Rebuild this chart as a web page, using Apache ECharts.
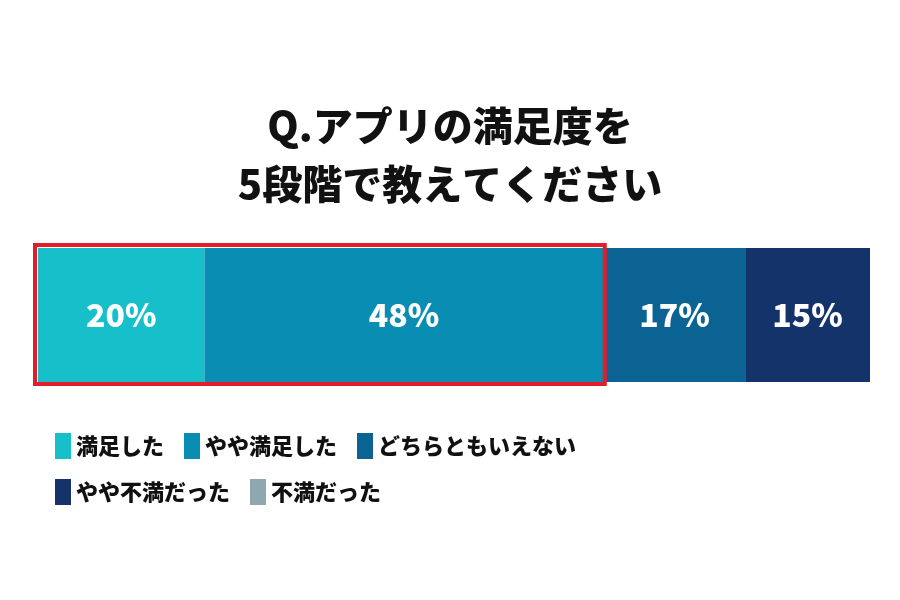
<!DOCTYPE html><html><head><meta charset="utf-8"><script src="https://cdn.jsdelivr.net/npm/echarts@6/dist/echarts.min.js"></script></head><body style="margin:0;background:#fff"><div id="c" style="width:900px;height:600px"></div><script>
const names=['満足した','やや満足した','どちらともいえない','やや不満だった','不満だった'];
const values=[20,48,17,15,0];
const colors=['#16bfca','#0a8db2','#0a6393','#13336a','#8fa8b0'];
const ff='"Noto Sans CJK JP", sans-serif';
const ch=echarts.init(document.getElementById('c'));
ch.setOption({
 animation:false,
 title:{text:'Q.アプリの満足度を\n5段階で教えてください',left:'center',top:92,textStyle:{fontFamily:ff,fontSize:40,fontWeight:900,color:'#111',lineHeight:58}},
 legend:{left:50,top:428,width:640,itemWidth:16,itemHeight:26,itemGap:20,icon:'rect',textStyle:{fontFamily:ff,fontSize:22,fontWeight:900,color:'#111'},data:names},
 grid:{left:38,right:30,top:248,height:134},
 xAxis:{type:'value',min:0,max:100,show:false},
 yAxis:{type:'category',data:[''],show:false},
 series:names.map((n,i)=>({name:n,type:'bar',stack:'a',barWidth:'100%',data:[values[i]],itemStyle:{color:colors[i]},
  label:{show:values[i]>0,formatter:'{c}%',color:'#fff',fontFamily:ff,fontSize:32,fontWeight:900}}))
});
const p0=ch.convertToPixel({gridIndex:0},[0,0]);
const p1=ch.convertToPixel({gridIndex:0},[values[0]+values[1],0]);
ch.setOption({graphic:[{type:'rect',shape:{x:p0[0]-3,y:245,width:p1[0]-p0[0]+4,height:139},style:{fill:'none',stroke:'#e31e2a',lineWidth:4},z:100}]});
</script></body></html>
